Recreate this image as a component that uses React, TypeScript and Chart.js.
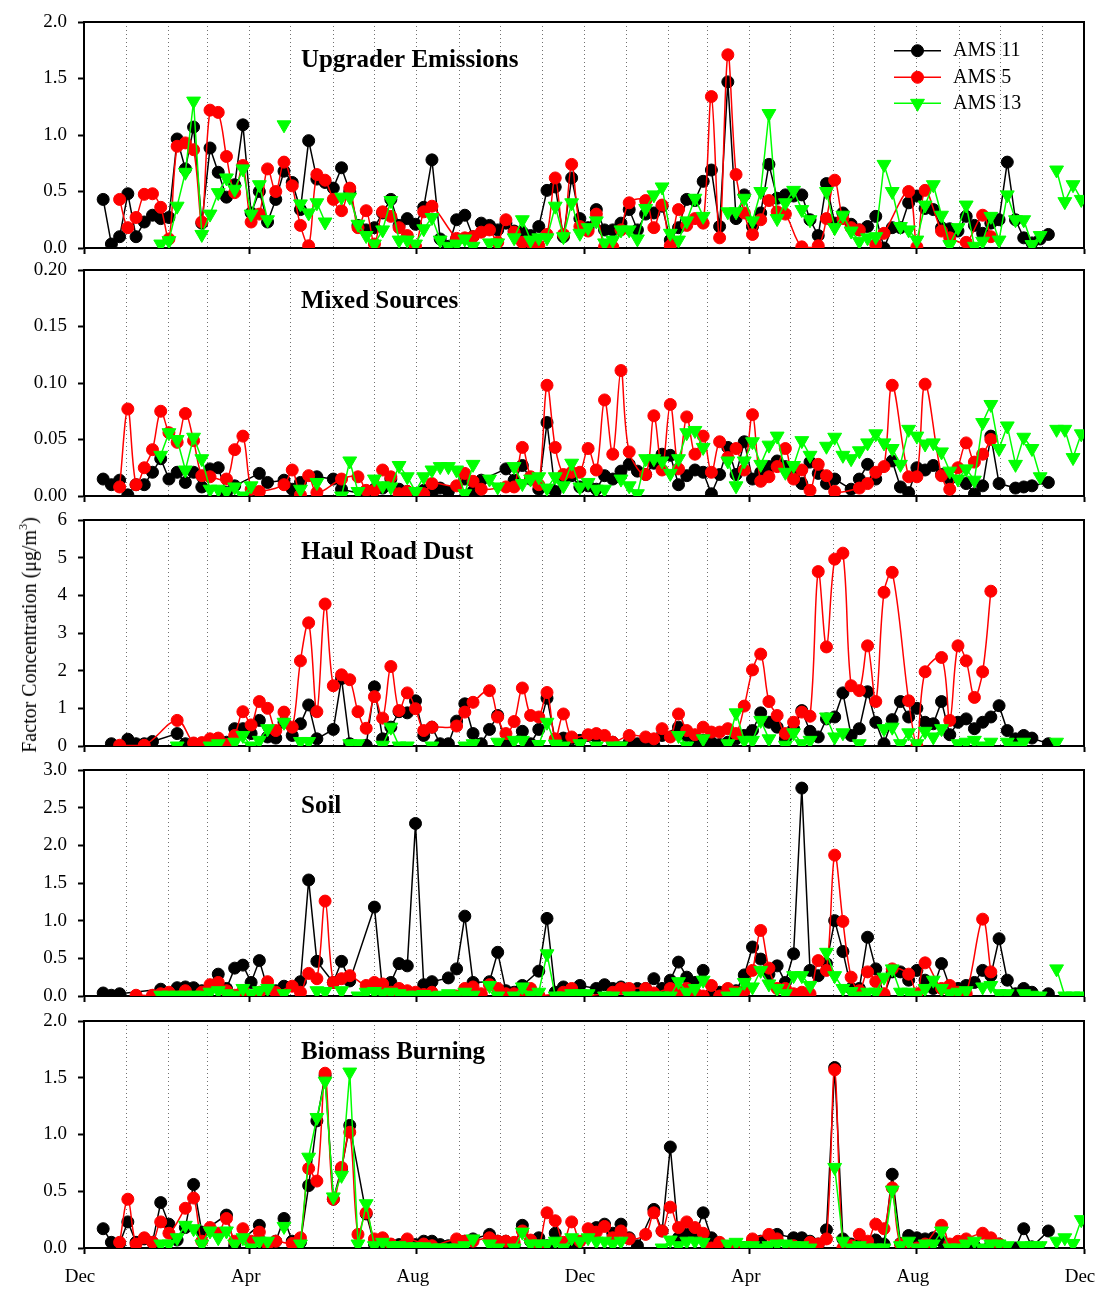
import React, { useEffect, useRef } from 'react';
import { Chart, registerables } from 'chart.js';

Chart.register(...registerables);

const n = null;

// Sampling schedule: day offsets counted from 1 Dec of the first year (1-in-6-day samples)
const sampleDays: number[] = [
  14, 20, 26, 32, 38, 44, 50, 56, 62, 68,
  74, 80, 86, 92, 98, 104, 110, 116, 122, 128,
  134, 140, 146, 152, 158, 164, 170, 176, 182, 188,
  194, 200, 206, 212, 218, 224, 230, 236, 242, 248,
  254, 260, 266, 272, 278, 284, 290, 296, 302, 308,
  314, 320, 326, 332, 338, 344, 350, 356, 362, 368,
  374, 380, 386, 392, 398, 404, 410, 416, 422, 428,
  434, 440, 446, 452, 458, 464, 470, 476, 482, 488,
  494, 500, 506, 512, 518, 524, 530, 536, 542, 548,
  554, 560, 566, 572, 578, 584, 590, 596, 602, 608,
  614, 620, 626, 632, 638, 644, 650, 656, 662, 668,
  674, 680, 686, 692, 698, 704, 710, 716, 722, 728,
];

// Month boundaries (days since 1 Dec of the first year) -> dotted grid
const monthStartDays = [0, 31, 62, 90, 121, 151, 182, 212, 243, 274, 304, 335, 365, 396, 427, 455, 486, 516, 547, 577, 608, 639, 669, 700, 730];
const xTickDays = [0, 121, 243, 365, 486, 608, 730];
const xTickLabels = ['Dec', 'Apr', 'Aug', 'Dec', 'Apr', 'Aug', 'Dec'];

const seriesLabels = ['AMS 11', 'AMS 5', 'AMS 13'];

// ---------- Upgrader Emissions ----------
const upgraderAms11 = [
  0.43, 0.035, 0.10, 0.48, 0.10, 0.23, 0.29, 0.26, 0.27, 0.965,
  0.70, 1.07, 0.22, 0.885, 0.67, 0.45, 0.56, 1.09, 0.31, 0.50,
  0.23, 0.43, 0.68, 0.58, 0.34, 0.95, 0.61, 0.58, 0.53, 0.71,
  0.50, 0.20, 0.16, 0.18, 0.31, 0.43, 0.20, 0.26, 0.21, 0.36,
  0.78, 0.08, 0.015, 0.25, 0.29, 0.10, 0.22, 0.20, 0.16, 0.22,
  0.15, 0.14, 0.11, 0.19, 0.51, 0.54, 0.10, 0.62, 0.26, 0.18,
  0.34, 0.16, 0.16, 0.22, 0.34, 0.16, 0.30, 0.31, 0.37, 0.07,
  0.18, 0.43, 0.42, 0.59, 0.69, 0.19, 1.47, 0.26, 0.47, 0.19,
  0.31, 0.74, 0.44, 0.47, 0.46, 0.47, 0.25, 0.11, 0.57, 0.22,
  0.31, 0.21, 0.16, 0.19, 0.28, 0.0, 0.18, 0.18, 0.40, 0.46,
  0.35, 0.34, 0.18, 0.17, 0.15, 0.28, 0.20, 0.13, 0.22, 0.25,
  0.76, 0.25, 0.09, 0.045, 0.08, 0.12, n, n, n, n,
];
const upgraderAms5 = [
  n, n, 0.43, 0.18, 0.27, 0.475, 0.48, 0.36, 0.08, 0.90,
  0.93, 0.87, 0.23, 1.22, 1.20, 0.81, 0.49, 0.73, 0.23, 0.30,
  0.70, 0.50, 0.76, 0.55, 0.20, 0.02, 0.65, 0.60, 0.43, 0.33,
  0.53, 0.18, 0.33, 0.035, 0.32, 0.28, 0.18, 0.11, 0.015, 0.32,
  0.37, n, n, 0.085, 0.09, 0.10, 0.14, 0.16, 0.05, 0.25,
  0.14, 0.05, 0.05, 0.02, 0.12, 0.62, 0.12, 0.74, 0.19, 0.15,
  0.30, 0.01, 0.01, 0.16, 0.40, n, 0.42, 0.18, 0.38, 0.02,
  0.34, 0.20, 0.26, 0.22, 1.34, 0.09, 1.71, 0.65, 0.31, 0.12,
  0.25, 0.42, 0.32, 0.30, n, 0.01, n, 0.02, 0.26, 0.60,
  0.26, 0.18, 0.16, n, 0.03, 0.13, n, n, 0.50, 0.01,
  0.51, n, 0.15, 0.09, n, 0.05, n, 0.29, 0.10, n,
  n, n, n, n, n, n, n, n, n, n,
];
const upgraderAms13 = [
  n, n, n, n, n, n, n, 0.035, 0.065, 0.37,
  0.67, 1.30, 0.12, 0.30, 0.49, 0.62, 0.52, 0.70, 0.30, 0.56,
  0.25, n, 1.09, n, 0.39, 0.31, 0.40, 0.23, n, 0.45,
  0.45, 0.21, 0.11, 0.035, 0.16, 0.42, 0.07, 0.07, 0.035, 0.17,
  0.27, 0.07, 0.015, 0.035, 0.08, 0.015, n, 0.045, 0.045, n,
  0.09, 0.25, 0.07, 0.09, 0.09, 0.37, 0.10, 0.40, 0.13, 0.18,
  0.24, 0.045, 0.07, 0.16, 0.16, 0.08, 0.35, 0.47, 0.54, 0.13,
  0.07, 0.24, 0.44, 0.28, n, n, 0.32, 0.32, 0.44, 0.24,
  0.50, 1.19, 0.26, 0.40, 0.51, 0.34, 0.25, n, 0.50, 0.18,
  0.29, 0.15, 0.06, 0.09, 0.10, 0.74, 0.50, 0.19, 0.16, 0.07,
  0.38, 0.56, 0.29, 0.03, 0.18, 0.38, 0.015, 0.06, 0.28, 0.07,
  0.47, 0.25, 0.25, 0.03, 0.11, n, 0.69, 0.41, 0.56, 0.43,
];

// ---------- Mixed Sources ----------
const mixedAms11 = [
  0.015, 0.010, 0.014, 0.001, 0.010, 0.010, 0.021, 0.033, 0.015, 0.021,
  0.012, 0.021, 0.008, 0.024, 0.025, 0.003, 0.009, n, n, 0.020,
  0.012, n, 0.014, 0.006, 0.012, n, 0.017, n, 0.015, 0.006,
  n, n, 0.001, 0.006, 0.007, 0.015, 0.006, 0.004, n, 0.005,
  0.001, 0.007, 0.004, n, 0.015, 0.004, 0.014, n, n, 0.024,
  0.014, 0.027, 0.015, 0.006, 0.065, 0.004, 0.015, 0.018, 0.008, 0.009,
  0.006, 0.018, 0.015, 0.022, 0.028, 0.022, 0.019, 0.029, 0.037, 0.036,
  0.010, 0.018, 0.023, 0.021, 0.002, 0.019, 0.043, 0.019, 0.048, 0.015,
  0.021, 0.026, 0.031, 0.026, 0.018, 0.011, 0.030, 0.020, 0.011, 0.015,
  n, 0.006, 0.015, 0.028, 0.015, n, 0.031, 0.008, 0.003, 0.025,
  0.023, 0.027, 0.019, 0.015, n, 0.011, 0.002, 0.009, 0.053, 0.011,
  n, 0.007, 0.008, 0.009, n, 0.012, n, n, n, n,
];
const mixedAms5 = [
  n, n, 0.008, 0.077, 0.010, 0.025, 0.041, 0.075, 0.056, 0.0475,
  0.073, 0.049, 0.018, 0.017, n, 0.015, 0.041, 0.053, 0.006, 0.004,
  n, n, 0.010, 0.023, 0.001, 0.018, 0.003, n, n, 0.015,
  n, 0.017, 0.005, 0.005, 0.023, 0.017, 0.002, 0.004, n, 0.002,
  0.011, n, n, 0.009, 0.020, 0.013, 0.006, n, n, 0.008,
  0.008, 0.043, 0.017, 0.010, 0.098, 0.043, 0.019, 0.021, 0.021, 0.042,
  0.023, 0.085, 0.037, 0.111, 0.039, n, 0.019, 0.071, 0.023, 0.081,
  0.024, 0.070, 0.037, 0.053, 0.021, 0.048, 0.034, 0.042, 0.023, 0.072,
  0.013, 0.017, 0.026, 0.042, 0.015, 0.023, 0.005, 0.028, 0.018, 0.004,
  n, n, 0.007, 0.011, 0.021, 0.026, 0.098, n, 0.017, 0.017,
  0.099, n, 0.018, 0.006, 0.025, 0.047, 0.030, 0.037, 0.050, n,
  n, n, n, n, n, n, n, n, n, n,
];
const mixedAms13 = [
  n, n, n, n, n, n, n, 0.036, 0.056, 0.050,
  0.023, 0.052, 0.033, 0.006, 0.006, 0.004, 0.008, 0.0, 0.009, n,
  n, n, n, n, 0.006, n, 0.012, n, n, 0.0,
  0.031, 0.004, n, 0.015, 0.009, 0.008, 0.027, 0.017, 0.004, 0.017,
  0.023, 0.026, 0.026, 0.023, 0.002, 0.028, n, 0.015, 0.008, n,
  0.026, 0.011, 0.015, 0.017, 0.007, 0.017, 0.009, 0.029, 0.008, 0.012,
  0.006, 0.006, n, 0.015, 0.009, 0.002, 0.033, 0.033, 0.031, 0.020,
  0.033, 0.056, 0.058, 0.043, n, n, 0.031, 0.009, 0.031, 0.048,
  0.028, 0.045, 0.053, 0.021, 0.027, 0.049, 0.036, n, 0.044, 0.052,
  0.036, 0.033, 0.040, 0.047, 0.055, 0.047, 0.042, 0.028, 0.059, 0.053,
  0.046, 0.047, 0.039, 0.022, 0.015, 0.024, 0.014, 0.065, 0.081, 0.042,
  0.062, 0.028, 0.052, 0.042, 0.017, n, 0.059, 0.059, 0.034, 0.055,
];

// ---------- Haul Road Dust ----------
const haulAms11 = [
  n, 0.06, n, 0.18, 0.06, 0.06, 0.12, n, n, 0.33,
  0.06, 0.06, 0.03, 0.10, n, 0.10, 0.46, 0.46, 0.33, 0.68,
  0.24, 0.21, 0.63, 0.28, 0.59, 1.09, 0.19, n, 0.44, 1.79,
  0.06, n, 0.02, 1.57, 0.19, 0.50, 0.91, 0.88, 1.20, 0.28,
  0.50, 0.06, 0.06, 0.66, 1.12, 0.33, 0.06, 0.44, 0.81, 0.02,
  n, 0.39, 0.06, 0.44, 1.27, 0.15, 0.21, 0.19, 0.15, 0.28,
  0.24, n, 0.10, n, 0.10, 0.06, 0.15, 0.02, 0.28, n,
  0.50, 0.28, 0.06, 0.15, 0.10, 0.04, 0.10, 0.19, 0.28, 0.41,
  0.88, 0.63, 0.50, 0.19, 0.46, 0.94, 0.39, 0.24, 0.72, 0.77,
  1.41, 0.28, 0.46, 1.44, 0.63, 0.06, 0.70, 1.18, 0.77, 1.00,
  0.63, 0.59, 1.18, 0.30, 0.63, 0.72, 0.46, 0.63, 0.77, 1.07,
  0.41, 0.19, 0.28, 0.21, n, 0.06, n, n, n, n,
];
const haulAms5 = [
  n, n, 0.02, n, n, 0.02, n, n, n, 0.68,
  n, 0.08, 0.09, 0.19, 0.21, 0.04, 0.28, 0.91, 0.56, 1.18,
  1.00, 0.41, 0.90, 0.50, 2.26, 3.27, 0.91, 3.77, 1.60, 1.89,
  1.76, 0.91, 0.47, 1.31, 0.74, 2.11, 0.94, 1.41, 0.99, 0.41,
  0.50, n, n, 0.53, 0.90, 1.16, n, 1.47, 0.77, 0.33,
  0.65, 1.54, 0.81, 0.77, 1.42, 0.19, 0.85, 0.24, n, 0.30,
  0.33, 0.28, 0.10, n, 0.28, n, 0.24, 0.19, 0.46, 0.24,
  0.85, 0.41, 0.30, 0.50, 0.37, 0.37, 0.46, 0.33, 1.06, 2.02,
  2.44, 1.18, 0.81, 0.33, 0.63, 0.90, 0.79, 4.63, 2.63, 4.96,
  5.12, 1.60, 1.47, 2.66, 1.18, 4.08, 4.61, n, 1.20, 0.00,
  1.97, n, 2.35, 0.68, 2.66, 2.26, 1.29, 1.97, 4.11, n,
  n, n, n, n, n, n, n, n, n, n,
];
const haulAms13 = [
  n, n, n, n, n, n, n, n, n, 0.0,
  n, n, n, 0.0, 0.06, n, 0.10, 0.28, 0.0, 0.15,
  0.46, n, 0.63, n, 0.12, 0.12, n, n, n, n,
  0.06, 0.06, n, n, 0.02, 0.50, 0.0, 0.0, n, n,
  0.0, n, n, n, 0.0, 0.06, n, n, 0.10, n,
  0.15, 0.15, n, 0.04, 0.63, 0.05, 0.0, n, 0.06, n,
  0.0, n, 0.0, 0.0, n, n, n, n, n, n,
  0.28, 0.0, n, 0.19, n, n, 0.06, 0.88, 0.15, 0.15,
  0.68, 0.19, n, 0.02, 0.35, 0.06, 0.15, n, 0.77, 0.24,
  0.35, n, 0.06, n, n, 0.46, 0.50, 0.06, 0.35, 0.06,
  0.39, 0.24, 0.46, n, 0.06, 0.10, 0.15, 0.0, 0.10, n,
  0.10, 0.0, 0.10, n, n, n, 0.10, n, n, n,
];

// ---------- Soil ----------
const soilAms11 = [
  0.04, 0.01, 0.03, n, n, n, n, 0.09, n, 0.11,
  0.12, 0.11, 0.07, n, 0.29, 0.10, 0.37, 0.41, 0.18, 0.47,
  0.10, 0.07, 0.13, n, 0.19, 1.54, 0.46, n, 0.18, 0.46,
  0.20, n, n, 1.18, 0.07, 0.18, 0.43, 0.40, 2.29, 0.15,
  0.19, n, 0.24, 0.36, 1.06, 0.18, n, 0.19, 0.58, 0.07,
  0.05, 0.14, n, 0.33, 1.03, 0.05, 0.12, n, 0.14, n,
  0.10, 0.15, 0.10, 0.12, n, 0.10, 0.10, 0.23, 0.10, 0.21,
  0.45, 0.25, 0.18, 0.34, 0.03, 0.05, n, 0.07, 0.28, 0.65,
  0.49, 0.29, 0.40, 0.18, 0.56, 2.76, 0.34, 0.27, 0.43, 1.00,
  0.59, 0.10, 0.10, 0.78, 0.36, 0.01, 0.32, 0.32, 0.21, 0.34,
  0.21, 0.10, 0.43, 0.12, 0.10, 0.14, 0.18, 0.34, 0.27, 0.76,
  0.21, 0.03, 0.10, 0.05, n, 0.03, n, n, n, n,
];
const soilAms5 = [
  n, n, n, n, 0.01, n, 0.01, 0.03, 0.05, n,
  0.07, n, 0.05, 0.15, 0.18, 0.07, 0.01, 0.07, n, 0.05,
  0.19, 0.05, n, 0.13, 0.05, 0.30, 0.23, 1.26, 0.18, 0.23,
  0.27, n, 0.14, 0.18, 0.16, 0.05, 0.10, 0.07, 0.05, 0.02,
  0.05, n, n, 0.0, 0.10, 0.12, 0.03, 0.15, 0.10, 0.03,
  0.03, 0.03, 0.10, 0.01, n, n, 0.05, 0.10, 0.0, n,
  n, n, 0.05, 0.10, 0.10, n, 0.10, 0.04, n, 0.10,
  0.05, 0.10, 0.05, 0.0, 0.14, 0.0, 0.10, 0.05, 0.07, 0.34,
  0.87, 0.37, 0.10, 0.10, 0.03, 0.05, 0.03, 0.47, 0.34, 1.87,
  0.99, 0.25, 0.07, 0.32, 0.19, 0.03, 0.36, n, 0.29, 0.03,
  0.44, n, 0.10, 0.14, 0.05, 0.03, n, 1.02, 0.32, n,
  n, n, n, n, n, n, n, n, n, n,
];
const soilAms13 = [
  n, n, n, n, n, n, n, 0.01, 0.01, 0.01,
  0.01, 0.01, 0.01, 0.05, 0.07, 0.03, 0.01, 0.10, 0.03, 0.07,
  0.10, n, 0.03, n, n, n, 0.07, 0.06, n, 0.07,
  n, 0.0, 0.05, 0.06, 0.03, 0.05, 0.03, 0.01, 0.01, 0.02,
  0.0, 0.01, 0.03, 0.01, 0.05, 0.01, n, 0.14, 0.0, n,
  0.0, 0.12, 0.01, 0.05, 0.56, 0.0, 0.0, 0.03, 0.03, 0.03,
  n, 0.0, 0.0, n, 0.0, 0.0, 0.0, 0.0, 0.0, 0.0,
  0.19, 0.05, 0.10, 0.21, n, n, 0.0, 0.05, 0.18, 0.12,
  0.34, 0.16, 0.10, 0.03, 0.27, 0.27, 0.14, n, 0.58, 0.27,
  0.10, 0.06, 0.0, 0.05, 0.05, 0.25, 0.36, 0.05, 0.05, 0.01,
  0.10, 0.21, 0.10, 0.03, 0.05, 0.07, n, 0.12, 0.14, 0.03,
  0.03, n, 0.03, 0.01, 0.0, n, 0.36, 0.0, 0.0, 0.0,
];

// ---------- Biomass Burning ----------
const biomassAms11 = [
  0.17, 0.05, 0.04, 0.23, 0.05, 0.08, 0.05, 0.40, 0.21, 0.07,
  0.18, 0.56, 0.14, n, n, 0.29, 0.02, n, n, 0.20,
  0.02, 0.06, 0.26, 0.06, 0.05, 0.55, 1.12, 1.52, 0.43, 0.70,
  1.08, n, 0.30, 0.035, 0.05, 0.03, 0.03, 0.04, 0.03, 0.06,
  0.06, 0.03, 0.02, 0.03, 0.06, 0.08, n, 0.12, 0.06, 0.06,
  0.02, 0.20, 0.06, 0.09, 0.02, 0.13, 0.04, 0.03, n, n,
  0.18, 0.21, 0.13, 0.21, 0.09, 0.02, n, 0.34, 0.15, 0.89,
  0.09, 0.12, 0.11, 0.31, 0.09, 0.035, n, n, n, 0.06,
  0.06, 0.0, 0.12, n, 0.09, 0.09, 0.06, 0.035, 0.16, 1.59,
  0.08, 0.035, 0.035, 0.02, 0.07, 0.035, 0.65, 0.04, 0.11, 0.09,
  0.08, 0.09, 0.06, n, 0.035, n, 0.02, n, 0.035, 0.035,
  n, 0.0, 0.17, 0.01, n, 0.15, n, n, n, n,
];
const biomassAms5 = [
  n, n, 0.05, 0.43, 0.035, 0.09, 0.05, 0.23, 0.13, n,
  0.35, 0.44, 0.06, 0.18, 0.13, 0.26, 0.06, 0.17, 0.06, 0.14,
  0.035, 0.06, n, 0.04, 0.09, 0.70, 0.59, 1.54, 0.43, 0.71,
  1.02, 0.12, 0.31, 0.08, 0.09, 0.035, n, 0.08, n, 0.035,
  0.02, n, n, 0.08, 0.06, 0.06, n, 0.09, 0.06, 0.06,
  0.05, 0.15, 0.07, 0.02, 0.31, 0.24, 0.05, 0.23, 0.06, 0.17,
  0.14, 0.19, 0.09, 0.15, 0.08, n, 0.12, 0.31, 0.15, 0.36,
  0.18, 0.23, 0.18, 0.13, 0.0, 0.05, n, 0.02, n, 0.08,
  n, 0.12, 0.08, n, 0.02, n, 0.05, 0.035, 0.08, 1.57,
  0.0, 0.02, 0.12, 0.06, 0.21, 0.17, 0.53, 0.035, n, 0.0,
  0.035, n, 0.20, 0.035, 0.06, 0.08, n, 0.13, 0.09, 0.035,
  n, n, n, n, n, n, n, n, n, n,
];
const biomassAms13 = [
  n, n, n, n, n, n, n, 0.035, 0.035, 0.09,
  0.20, 0.17, 0.035, 0.15, 0.09, 0.15, 0.035, 0.09, 0.0, 0.06,
  0.06, n, 0.19, n, 0.035, 0.80, 1.15, 1.47, 0.45, 0.64,
  1.55, 0.035, 0.39, 0.02, 0.05, 0.02, 0.02, 0.01, 0.01, 0.01,
  0.0, 0.0, 0.0, 0.0, 0.02, 0.08, n, 0.035, 0.0, n,
  0.0, 0.14, 0.035, 0.035, 0.035, 0.06, 0.0, 0.09, 0.06, 0.09,
  0.06, 0.06, 0.035, 0.06, n, n, n, n, 0.0, 0.07,
  0.02, 0.06, 0.06, 0.05, n, n, 0.035, 0.05, 0.02, 0.02,
  0.0, 0.02, 0.035, 0.035, 0.02, 0.02, 0.0, n, n, 0.71,
  0.06, 0.0, 0.02, 0.0, 0.0, 0.0, 0.51, 0.02, 0.06, 0.0,
  0.035, 0.035, 0.15, 0.0, 0.0, 0.035, 0.06, 0.0, 0.035, 0.035,
  0.02, n, 0.02, 0.02, 0.02, n, 0.06, 0.09, 0.04, 0.25,
];

const panelTitles = ['Upgrader Emissions', 'Mixed Sources', 'Haul Road Dust', 'Soil', 'Biomass Burning'];
const panelYMax = [2, 0.2, 6, 3, 2];
const panelYStep = [0.5, 0.05, 1, 0.5, 0.5];
const panelYDecimals = [1, 2, 0, 1, 1];
const panelSeries = [
  [upgraderAms11, upgraderAms5, upgraderAms13],
  [mixedAms11, mixedAms5, mixedAms13],
  [haulAms11, haulAms5, haulAms13],
  [soilAms11, soilAms5, soilAms13],
  [biomassAms11, biomassAms5, biomassAms13],
];

// ---------- layout / style ----------
const FONT = '"Liberation Serif", "Times New Roman", Times, serif';
const PAGE_W = 1100;
const PAGE_H = 1292;
const PLOT_LEFT = 84;
const PLOT_RIGHT = 1084;
const PLOT_H = 227;
const PAD_TOP = 14;
const panelTops = [22, 270, 520, 770, 1021];
const titleBaselineOffsets = [44.7, 37.7, 39, 43, 38];
const TITLE_X = 301;
const AXIS_H_PLAIN = 8;
const AXIS_H_LABELLED = 44;
const seriesColors = ['#000000', '#ff0000', '#00ff00'];
const legendRowOffsets = [28.7, 55.3, 81.3];
const LEGEND_LINE_X0 = 894;
const LEGEND_LINE_X1 = 941;
const LEGEND_TEXT_X = 953;

function drawMarker(ctx: CanvasRenderingContext2D, kind: string, x: number, y: number, color: string) {
  ctx.save();
  ctx.fillStyle = color;
  ctx.strokeStyle = color;
  ctx.lineWidth = 1;
  ctx.beginPath();
  if (kind === 'circle') {
    ctx.arc(x, y, 6, 0, Math.PI * 2);
  } else {
    const r = 8;
    const s = Math.sin(Math.PI / 3) * r;
    ctx.moveTo(x, y + r);
    ctx.lineTo(x - s, y - r / 2);
    ctx.lineTo(x + s, y - r / 2);
    ctx.closePath();
  }
  ctx.fill();
  ctx.stroke();
  ctx.restore();
}

function buildChart(canvas: HTMLCanvasElement, p: number) {
  const isBottom = p === panelTitles.length - 1;
  const axisH = isBottom ? AXIS_H_LABELLED : AXIS_H_PLAIN;
  const toPts = (vals: (number | null)[]) => sampleDays.map((d, i) => ({ x: d, y: vals[i] }));
  const [s11, s5, s13] = panelSeries[p];

  const datasets: any[] = [
    {
      label: seriesLabels[0], data: toPts(s11),
      borderColor: seriesColors[0], backgroundColor: seriesColors[0],
      pointBackgroundColor: seriesColors[0], pointBorderColor: seriesColors[0],
      pointStyle: 'circle', pointRadius: 6, pointBorderWidth: 1,
      borderWidth: 1.5, tension: 0, spanGaps: true, order: 3,
    },
    {
      label: seriesLabels[1], data: toPts(s5),
      borderColor: seriesColors[1], backgroundColor: seriesColors[1],
      pointBackgroundColor: seriesColors[1], pointBorderColor: seriesColors[1],
      pointStyle: 'circle', pointRadius: 6, pointBorderWidth: 1,
      borderWidth: 1.5, tension: 0.35, spanGaps: true, order: 2,
    },
    {
      label: seriesLabels[2], data: toPts(s13),
      borderColor: seriesColors[2], backgroundColor: seriesColors[2],
      pointBackgroundColor: seriesColors[2], pointBorderColor: seriesColors[2],
      pointStyle: 'triangle', pointRotation: 180, pointRadius: 8, pointBorderWidth: 1,
      borderWidth: 1.5, tension: 0, spanGaps: false, order: 1,
    },
  ];

  const decor = {
    id: 'decor',
    beforeDatasetsDraw(chart: any) {
      const { ctx, chartArea } = chart;
      ctx.save();
      ctx.strokeStyle = '#000';
      ctx.lineWidth = 2;
      ctx.beginPath();
      ctx.moveTo(chartArea.left, chartArea.top);
      ctx.lineTo(chartArea.right, chartArea.top);
      ctx.lineTo(chartArea.right, chartArea.bottom);
      ctx.stroke();
      ctx.restore();
    },
    afterDraw(chart: any) {
      const { ctx, chartArea } = chart;
      ctx.save();
      ctx.fillStyle = '#000';
      ctx.font = `bold 25px ${FONT}`;
      ctx.textAlign = 'left';
      ctx.textBaseline = 'alphabetic';
      ctx.fillText(panelTitles[p], TITLE_X, chartArea.top + titleBaselineOffsets[p]);
      if (p === 0) {
        const kinds = ['circle', 'circle', 'triangle'];
        seriesLabels.forEach((lab, i) => {
          const y = chartArea.top + legendRowOffsets[i];
          ctx.strokeStyle = seriesColors[i];
          ctx.lineWidth = 1.5;
          ctx.beginPath();
          ctx.moveTo(LEGEND_LINE_X0, y);
          ctx.lineTo(LEGEND_LINE_X1, y);
          ctx.stroke();
          drawMarker(ctx, kinds[i], (LEGEND_LINE_X0 + LEGEND_LINE_X1) / 2, y, seriesColors[i]);
          ctx.fillStyle = '#000';
          ctx.font = `20px ${FONT}`;
          ctx.textBaseline = 'middle';
          ctx.fillText(lab, LEGEND_TEXT_X, y);
        });
      }
      ctx.restore();
    },
  };

  return new Chart(canvas, {
    type: 'line',
    data: { datasets },
    options: {
      animation: false,
      responsive: false,
      devicePixelRatio: 1,
      events: [],
      layout: { padding: { top: PAD_TOP, right: PAGE_W - PLOT_RIGHT, left: 0, bottom: 0 } },
      plugins: { legend: { display: false }, tooltip: { enabled: false } },
      scales: {
        x: {
          type: 'linear',
          min: 0,
          max: 730,
          afterBuildTicks: (scale: any) => {
            scale.ticks = monthStartDays.map((v) => ({ value: v }));
          },
          afterFit: (scale: any) => {
            scale.height = axisH;
            scale.paddingLeft = 0;
            scale.paddingRight = 0;
          },
          ticks: {
            display: isBottom,
            autoSkip: false,
            maxRotation: 0,
            minRotation: 0,
            labelOffset: -4,
            padding: 12,
            color: '#000',
            font: { family: FONT, size: 19 },
            callback: (value: any) => {
              const i = xTickDays.indexOf(Number(value));
              return i >= 0 ? xTickLabels[i] : '';
            },
          },
          grid: {
            drawOnChartArea: true,
            drawTicks: true,
            tickLength: 6,
            tickWidth: 2,
            lineWidth: 1,
            color: (ctx: any) => {
              const v = ctx.tick ? ctx.tick.value : -1;
              return v === 0 || v === 730 ? 'rgba(0,0,0,0)' : '#707070';
            },
            tickColor: (ctx: any) => {
              const v = ctx.tick ? ctx.tick.value : -1;
              return xTickDays.indexOf(v) >= 0 ? '#000' : 'rgba(0,0,0,0)';
            },
          },
          border: { display: true, color: '#000', width: 2, dash: [1, 3] },
        },
        y: {
          type: 'linear',
          min: 0,
          max: panelYMax[p],
          afterFit: (scale: any) => {
            scale.width = PLOT_LEFT;
            scale.paddingTop = 0;
            scale.paddingBottom = 0;
          },
          ticks: {
            stepSize: panelYStep[p],
            padding: 11,
            color: '#000',
            font: { family: FONT, size: 19 },
            callback: (v: any) => Number(v).toFixed(panelYDecimals[p]),
          },
          grid: {
            drawOnChartArea: false,
            drawTicks: true,
            tickLength: 6,
            tickWidth: 2,
            tickColor: '#000',
          },
          border: { display: true, color: '#000', width: 2 },
        },
      },
    } as any,
    plugins: [decor],
  });
}

export default function App() {
  const refs = useRef<(HTMLCanvasElement | null)[]>([]);

  useEffect(() => {
    const charts = panelTitles.map((_, p) => buildChart(refs.current[p] as HTMLCanvasElement, p));
    return () => {
      charts.forEach((c) => c.destroy());
    };
  }, []);

  return (
    <div style={{ position: 'absolute', left: 0, top: 0, width: PAGE_W, height: PAGE_H, background: '#fff', overflow: 'hidden' }}>
      {panelTitles.map((t, p) => {
        const axisH = p === panelTitles.length - 1 ? AXIS_H_LABELLED : AXIS_H_PLAIN;
        const h = PAD_TOP + PLOT_H + axisH;
        return (
          <canvas
            key={t}
            ref={(el) => { refs.current[p] = el; }}
            width={PAGE_W}
            height={h}
            style={{ position: 'absolute', left: 0, top: panelTops[p] - PAD_TOP, width: PAGE_W, height: h, display: 'block' }}
          />
        );
      })}
      <div
        style={{
          position: 'absolute',
          left: 29,
          top: 635,
          transform: 'translate(-50%, -50%) rotate(-90deg)',
          whiteSpace: 'nowrap',
          fontFamily: FONT,
          fontSize: 20,
          lineHeight: '20px',
          color: '#000',
        }}
      >
        Factor Concentration (μg/m<sup style={{ fontSize: '0.6em', lineHeight: 0, verticalAlign: '0.75em' }}>3</sup>)
      </div>
    </div>
  );
}
